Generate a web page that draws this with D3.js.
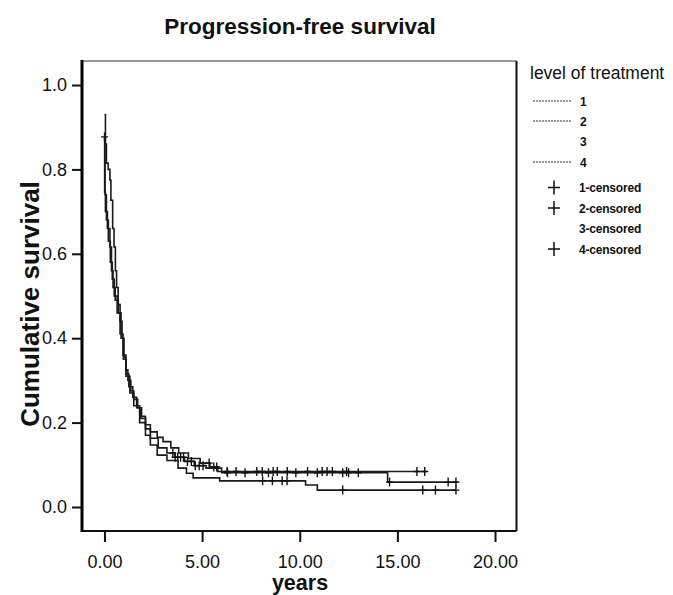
<!DOCTYPE html>
<html>
<head>
<meta charset="utf-8">
<script src="https://cdn.jsdelivr.net/npm/d3@7"></script>
<style>
  html, body { margin: 0; padding: 0; background: #fff; }
  svg { display: block; }
  text { font-family: "Liberation Sans", Arial, Helvetica, sans-serif; fill: #111; }
</style>
</head>
<body>
<svg id="chart" width="673" height="595"></svg>
<script>
// ---------- data ----------
const chartTitle = "Progression-free survival";
const xTitle = "years";
const yTitle = "Cumulative survival";
const legendTitle = "level of treatment";
const groups = ["1", "2", "3", "4"];

const xTicks = [0, 5, 10, 15, 20];
const yTicks = [0.0, 0.2, 0.4, 0.6, 0.8, 1.0];

// group 1 : steep left curve, flat ~0.081 then step to 0.059 at 14.5
const g1Time = [0, 0.01, 0.05, 0.15, 0.28, 0.36, 0.44, 0.55, 0.71, 0.85, 0.97, 1.1, 1.25, 1.45, 1.65, 1.85, 2.1, 2.35, 2.75, 3.2, 3.6, 4.1, 4.6, 5.2, 6.0, 14.5];
const g1Surv = [0.877, 0.746, 0.70, 0.66, 0.616, 0.56, 0.52, 0.49, 0.46, 0.40, 0.35, 0.315, 0.285, 0.26, 0.235, 0.21, 0.185, 0.163, 0.14, 0.128, 0.118, 0.108, 0.098, 0.092, 0.081, 0.059];
const g1End = 18.1;
const g1Cens = [0.005, 3.5, 3.62, 3.75, 3.9, 4.05, 4.25, 4.45, 4.65, 4.85, 5.05, 6.3, 7.2, 8.4, 9.8, 10.9, 12.2, 12.5, 13.0, 14.6, 17.6, 18.0];

// group 2 : lagging right curve, flat ~0.084 to 16.5
const g2Time = [0, 0.05, 0.1, 0.19, 0.28, 0.33, 0.42, 0.49, 0.56, 0.62, 0.7, 0.8, 0.9, 1.0, 1.1, 1.2, 1.35, 1.5, 1.7, 1.9, 2.1, 2.35, 2.7, 3.0, 3.4, 3.8, 4.3, 4.9, 5.4, 5.8];
const g2Surv = [0.93, 0.86, 0.815, 0.80, 0.775, 0.727, 0.66, 0.616, 0.56, 0.52, 0.48, 0.44, 0.40, 0.355, 0.325, 0.30, 0.275, 0.255, 0.235, 0.215, 0.195, 0.178, 0.165, 0.155, 0.14, 0.128, 0.115, 0.104, 0.095, 0.084];
const g2End = 16.5;
const g2Cens = [5.36, 5.6, 5.75, 6.28, 6.74, 7.8, 8.08, 8.64, 8.85, 9.36, 10.4, 11.15, 11.4, 11.67, 12.4, 16.0, 16.4];

// group 3 : no cases drawn
const g3Time = [];
const g3Surv = [];
const g3End = 0;
const g3Cens = [];

// group 4 : lowest curve, ends at 0.040
const g4Time = [0, 0.03, 0.1, 0.2, 0.3, 0.4, 0.5, 0.65, 0.8, 0.95, 1.1, 1.3, 1.5, 1.8, 2.1, 2.35, 2.7, 3.2, 3.77, 4.2, 4.54, 5.9, 10.3, 10.9];
const g4Surv = [0.86, 0.74, 0.68, 0.63, 0.58, 0.54, 0.50, 0.46, 0.41, 0.36, 0.31, 0.27, 0.24, 0.20, 0.17, 0.147, 0.123, 0.11, 0.092, 0.08, 0.069, 0.062, 0.052, 0.040];
const g4End = 18.0;
const g4Cens = [8.1, 8.6, 9.1, 9.35, 12.2, 16.3, 16.95, 18.0];

// ---------- build ----------
const series = [
  { key: "1", time: g1Time, surv: g1Surv, end: g1End, cens: g1Cens },
  { key: "2", time: g2Time, surv: g2Surv, end: g2End, cens: g2Cens },
  { key: "3", time: g3Time, surv: g3Surv, end: g3End, cens: g3Cens },
  { key: "4", time: g4Time, surv: g4Surv, end: g4End, cens: g4Cens }
];

const svg = d3.select("#chart");
const L = 82, R = 516.5, T = 61, B = 531;

const x = d3.scaleLinear().domain([-1.15, 21.1]).range([L, R]);
const y = d3.scaleLinear().domain([-0.0569, 1.0569]).range([B, T]);

// title
svg.append("text").attr("x", 300).attr("y", 34).attr("text-anchor", "middle")
  .style("font-size", "22.5px").style("font-weight", "bold").text(chartTitle);

// axes
const yAxis = svg.append("g").attr("transform", `translate(${L},0)`)
  .call(d3.axisLeft(y).tickValues(yTicks).tickFormat(d3.format(".1f")).tickSize(10).tickPadding(5));
const xAxis = svg.append("g").attr("transform", `translate(0,${B})`)
  .call(d3.axisBottom(x).tickValues(xTicks).tickFormat(d3.format(".2f")).tickSize(11).tickPadding(13));
[yAxis, xAxis].forEach(g => {
  g.select(".domain").remove();
  g.selectAll(".tick line").attr("stroke", "#111").attr("stroke-width", 2);
  g.selectAll(".tick text").style("font-size", "18px").style("font-family", '"Liberation Sans", Arial, sans-serif').attr("fill", "#111");
});

// frame
svg.append("line").attr("x1", L).attr("x2", R).attr("y1", T).attr("y2", T).attr("stroke", "#333").attr("stroke-width", 1.2);
svg.append("line").attr("x1", R).attr("x2", R).attr("y1", T).attr("y2", B).attr("stroke", "#111").attr("stroke-width", 2);
svg.append("line").attr("x1", L).attr("x2", R).attr("y1", B).attr("y2", B).attr("stroke", "#111").attr("stroke-width", 2.2);
svg.append("line").attr("x1", L).attr("x2", L).attr("y1", T - 1).attr("y2", B + 1).attr("stroke", "#000").attr("stroke-width", 3);

// axis titles
svg.append("text").attr("x", 300).attr("y", 590).attr("text-anchor", "middle")
  .style("font-size", "21.5px").style("font-weight", "bold").text(xTitle);
svg.append("text").attr("transform", "translate(39,304) rotate(-90)").attr("text-anchor", "middle")
  .style("font-size", "26px").style("font-weight", "bold").text(yTitle);

// curves
const line = d3.line().x(d => x(d[0])).y(d => y(d[1])).curve(d3.curveStepAfter);
const plot = svg.append("g");
series.forEach(s => {
  if (!s.time.length) return;
  const pts = s.time.map((t, i) => [t, s.surv[i]]);
  pts.push([s.end, s.surv[s.surv.length - 1]]);
  plot.append("path").attr("d", line(pts)).attr("fill", "none")
    .attr("stroke", "#1a1a1a").attr("stroke-width", 1.6);
  const survAt = t => s.surv[Math.max(0, d3.bisectRight(s.time, t) - 1)];
  s.cens.forEach(t => {
    const cx = x(t), cy = y(survAt(t));
    plot.append("path").attr("d", `M${cx - 3.5},${cy}H${cx + 3.5}M${cx},${cy - 4.5}V${cy + 4.5}`)
      .attr("stroke", "#111").attr("stroke-width", 1.4).attr("fill", "none");
  });
});

// legend
const lg = svg.append("g");
lg.append("text").attr("x", 530).attr("y", 79).style("font-size", "17.5px").text(legendTitle);
const lineRows = [101, 121, 141.5, 162];
const censRows = [187.5, 208, 228.5, 249];
series.forEach((s, i) => {
  const yy = lineRows[i];
  if (s.time.length) {
    lg.append("line").attr("x1", 533).attr("x2", 572).attr("y1", yy).attr("y2", yy)
      .attr("stroke", "#333").attr("stroke-width", 1.1).attr("stroke-dasharray", "2,1");
  }
  lg.append("text").attr("x", 580).attr("y", yy + 4.5).style("font-size", "12px").style("font-weight", "bold").text(s.key);
  const cy = censRows[i];
  if (s.time.length) {
    lg.append("path").attr("d", `M${554 - 6},${cy}H${554 + 6}M${554},${cy - 7}V${cy + 7}`)
      .attr("stroke", "#111").attr("stroke-width", 1.5).attr("fill", "none");
  }
  lg.append("text").attr("x", 579).attr("y", cy + 4.5).style("font-size", "12px").style("font-weight", "bold")
    .style("letter-spacing", "-0.2px").text(s.key + "-censored");
});
</script>
</body>
</html>
